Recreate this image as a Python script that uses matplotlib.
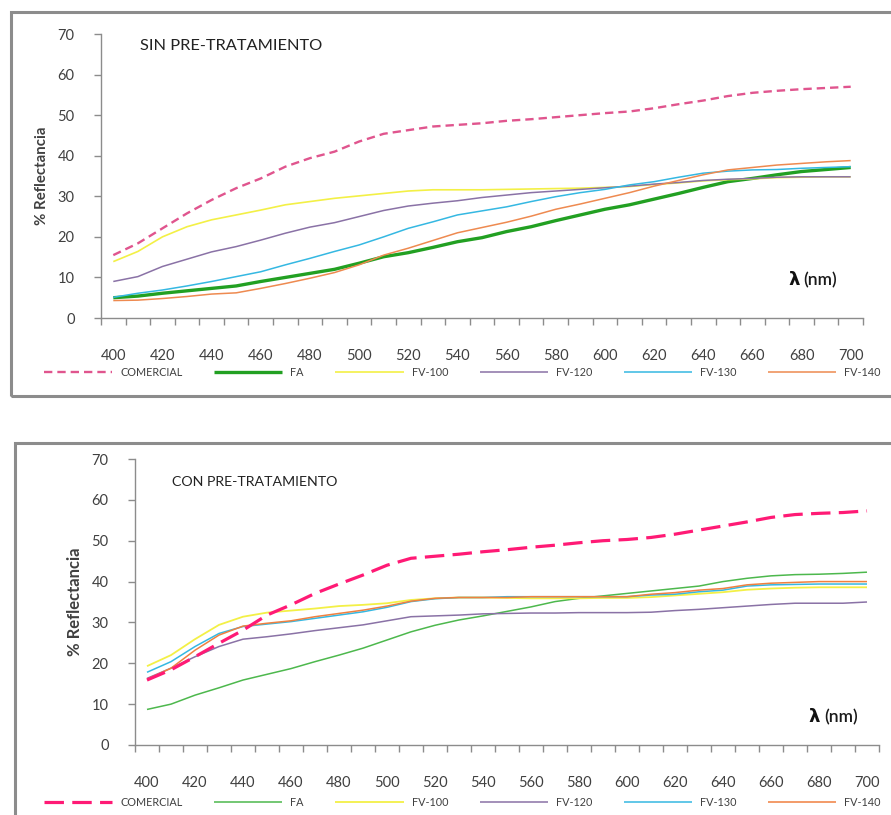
import numpy as np
import matplotlib.pyplot as plt
from matplotlib.patches import Rectangle

plt.rcParams['font.family'] = ['Lato', 'DejaVu Sans']
plt.rcParams['lines.scale_dashes'] = False

# categories (nm)
wavelengths = list(range(400, 701, 10))
series_names = ['COMERCIAL', 'FA', 'FV-100', 'FV-120', 'FV-130', 'FV-140']

# SIN PRE-TRATAMIENTO
sin_comercial = [15.5, 18.4, 22.1, 25.8, 29.1, 32.0, 34.4, 37.3, 39.4, 41.0, 43.5, 45.4, 46.3, 47.2, 47.6, 48.0,
                 48.6, 49.0, 49.5, 50.0, 50.5, 50.9, 51.7, 52.7, 53.6, 54.7, 55.5, 56.0, 56.4, 56.7, 57.0]
sin_fa = [5.0, 5.4, 6.1, 6.7, 7.3, 7.9, 9.0, 10.0, 11.0, 12.0, 13.5, 15.1, 16.1, 17.4, 18.8, 19.8,
          21.3, 22.5, 24.0, 25.4, 26.8, 27.9, 29.3, 30.7, 32.2, 33.6, 34.4, 35.3, 36.1, 36.6, 37.1]
sin_fv100 = [13.9, 16.4, 20.0, 22.5, 24.2, 25.4, 26.6, 27.9, 28.7, 29.5, 30.1, 30.7, 31.3, 31.6, 31.6, 31.6,
             31.7, 31.8, 31.9, 32.0, 32.2, 32.4, 32.9, 33.3, 33.8, 34.1, 34.3, 34.6, 34.7, 34.8, 34.8]
sin_fv120 = [9.0, 10.2, 12.7, 14.5, 16.3, 17.6, 19.2, 20.9, 22.4, 23.5, 25.0, 26.5, 27.6, 28.3, 28.9, 29.7,
             30.3, 30.9, 31.3, 31.7, 32.1, 32.5, 33.0, 33.4, 33.9, 34.2, 34.4, 34.7, 34.8, 34.8, 34.8]
sin_fv130 = [5.1, 6.1, 6.9, 7.9, 9.0, 10.2, 11.4, 13.1, 14.7, 16.4, 18.0, 20.0, 22.1, 23.7, 25.4, 26.4,
             27.4, 28.7, 29.9, 30.9, 31.7, 32.8, 33.6, 34.7, 35.7, 36.2, 36.5, 36.6, 36.9, 37.1, 37.3]
sin_fv140 = [4.3, 4.4, 4.8, 5.3, 5.9, 6.2, 7.3, 8.5, 9.8, 11.2, 13.1, 15.5, 17.2, 19.1, 21.0, 22.3,
             23.6, 25.1, 26.8, 28.1, 29.5, 30.9, 32.5, 33.9, 35.3, 36.5, 37.1, 37.7, 38.1, 38.5, 38.8]

# CON PRE-TRATAMIENTO
con_comercial = [15.9, 18.4, 21.6, 24.9, 28.1, 31.8, 34.3, 37.1, 39.4, 41.6, 44.0, 45.7, 46.2, 46.7, 47.3, 47.8,
                 48.4, 48.9, 49.5, 50.0, 50.3, 50.8, 51.6, 52.6, 53.6, 54.6, 55.7, 56.4, 56.7, 56.9, 57.3]
con_fa = [8.7, 10.0, 12.2, 14.0, 15.9, 17.3, 18.7, 20.4, 22.0, 23.7, 25.7, 27.7, 29.3, 30.6, 31.6, 32.7,
          33.8, 35.1, 35.9, 36.5, 37.1, 37.7, 38.3, 38.9, 40.0, 40.8, 41.4, 41.7, 41.8, 42.0, 42.3]
con_fv100 = [19.3, 22.0, 25.9, 29.4, 31.4, 32.4, 32.9, 33.4, 34.0, 34.3, 34.7, 35.5, 35.9, 36.1, 36.1, 36.0,
             35.9, 35.9, 35.9, 36.0, 36.0, 36.2, 36.6, 37.0, 37.4, 38.0, 38.3, 38.5, 38.6, 38.6, 38.6]
con_fv120 = [16.3, 18.8, 21.6, 24.1, 25.9, 26.5, 27.2, 28.0, 28.7, 29.4, 30.4, 31.4, 31.6, 31.8, 32.1, 32.2,
             32.3, 32.3, 32.4, 32.4, 32.4, 32.5, 32.9, 33.2, 33.6, 34.0, 34.4, 34.7, 34.7, 34.7, 35.0]
con_fv130 = [17.8, 20.4, 24.1, 27.3, 29.0, 29.6, 30.2, 31.0, 31.8, 32.6, 33.7, 35.1, 35.8, 36.1, 36.1, 36.3,
             36.3, 36.3, 36.3, 36.3, 36.3, 36.7, 36.9, 37.5, 37.9, 38.9, 39.2, 39.3, 39.4, 39.4, 39.4]
con_fv140 = [16.1, 18.8, 23.2, 26.9, 29.1, 29.8, 30.4, 31.4, 32.2, 33.0, 34.0, 35.2, 35.9, 36.1, 36.1, 36.1,
             36.3, 36.3, 36.3, 36.3, 36.3, 36.9, 37.3, 37.9, 38.3, 39.2, 39.6, 39.8, 40.0, 40.0, 40.0]

top_styles = [
    dict(color='#E0558E', lw=1.7, dashes=(6, 3.6)),
    dict(color='#22A022', lw=2.4),
    dict(color='#F3F046', lw=1.2),
    dict(color='#8A72A6', lw=1.1),
    dict(color='#35B8E2', lw=1.1),
    dict(color='#EE8A50', lw=1.1),
]
bottom_styles = [
    dict(color='#FF1A75', lw=2.3, dashes=(14, 6), zorder=5),
    dict(color='#4DB84D', lw=1.1),
    dict(color='#F3F046', lw=1.3),
    dict(color='#8A72A6', lw=1.1),
    dict(color='#35B8E2', lw=1.1),
    dict(color='#F08040', lw=1.1),
]

GRAY = '#8c8c8c'
TXT = '#404040'

fig = plt.figure(figsize=(8.91, 8.15), dpi=100)
W, H = 891, 815


def draw_panel(rect, data, styles, title, title_size, title_pos, lam_pos, ylabel_size, legend_y):
    ax = fig.add_axes(rect)
    x = np.arange(len(wavelengths))
    handles = []
    for vals, st, name in zip(data, styles, series_names):
        st = dict(st)
        dashes = st.pop('dashes', None)
        ln, = ax.plot(x, vals, label=name, solid_capstyle='butt', **st)
        if dashes:
            ln.set_dashes(dashes)
        handles.append(ln)
    ax.set_xlim(-0.5, len(wavelengths) - 0.5)
    ax.set_ylim(0, 70)
    for s in ['top', 'right']:
        ax.spines[s].set_visible(False)
    for s in ['left', 'bottom']:
        ax.spines[s].set_color(GRAY)
        ax.spines[s].set_linewidth(1.0)
    ax.set_yticks(range(0, 71, 10))
    ax.tick_params(axis='y', direction='out', length=5, width=1, color=GRAY,
                   labelsize=10.5, labelcolor=TXT, pad=14)
    # category boundaries get tick marks, labels sit at every other category
    ax.set_xticks(np.arange(-0.5, len(wavelengths), 1.0))
    ax.set_xticklabels([])
    ax.tick_params(axis='x', which='major', direction='out', length=5, width=1, color=GRAY)
    ax.set_xticks(x[::2], minor=True)
    ax.set_xticklabels([str(w) for w in wavelengths[::2]], minor=True)
    ax.tick_params(axis='x', which='minor', length=0, labelsize=10.5, labelcolor=TXT, pad=22)
    ax.set_ylabel('% Reflectancia', fontsize=ylabel_size, fontweight='bold', color=TXT, labelpad=6)
    ax.text(title_pos[0], title_pos[1], title, transform=ax.transAxes, fontsize=title_size,
            color='#222222', ha='left', va='center')
    ax.text(lam_pos[0], lam_pos[1], 'λ', transform=ax.transAxes, fontsize=13,
            fontweight='bold', ha='right', va='center', color='#111111',
            family=['DejaVu Sans'])
    ax.text(lam_pos[0] + 0.005, lam_pos[1], '(nm)', transform=ax.transAxes, fontsize=12.5,
            fontweight='semibold', ha='left', va='center', color='#1a1a1a')
    fig.legend(handles, series_names, loc='center', bbox_to_anchor=(0.519, legend_y),
               ncol=6, frameon=False, fontsize=7.8, handlelength=6.3, handletextpad=0.75,
               columnspacing=2.9, labelcolor=TXT)
    return ax


# panel frames
fig.add_artist(Rectangle((11 / W, 1 - 396 / H), (895 - 11) / W, (396 - 12) / H,
                         transform=fig.transFigure, fill=False, ec=GRAY, lw=2.2))
fig.add_artist(Rectangle((15 / W, -0.05), 1.0, 1 - 443 / H + 0.05,
                         transform=fig.transFigure, fill=False, ec=GRAY, lw=2.2))

draw_panel([101 / W, 1 - 318 / H, 762 / W, 284 / H],
           [sin_comercial, sin_fa, sin_fv100, sin_fv120, sin_fv130, sin_fv140],
           top_styles, 'SIN PRE-TRATAMIENTO', 11.8, (0.051, 0.958), (0.917, 0.134), 10.8, 1 - 372 / H)

draw_panel([135 / W, 1 - 745 / H, 744 / W, 286 / H],
           [con_comercial, con_fa, con_fv100, con_fv120, con_fv130, con_fv140],
           bottom_styles, 'CON PRE-TRATAMIENTO', 10.2, (0.05, 0.92), (0.921, 0.098), 12, 1 - 802 / H)

fig.savefig('out.png', dpi=100)
